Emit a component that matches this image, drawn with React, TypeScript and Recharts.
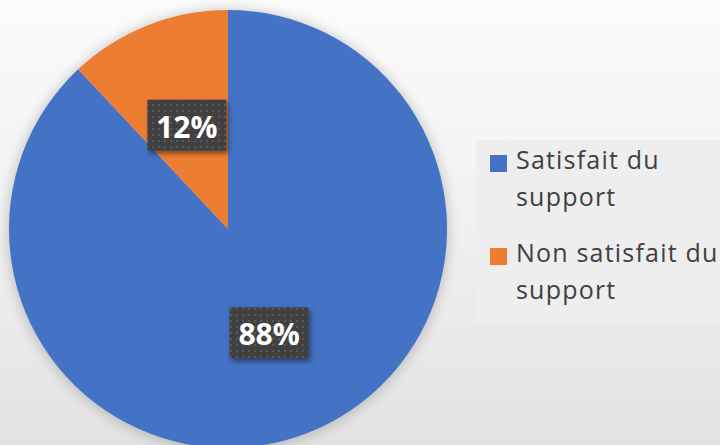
import { Cell, Legend, Pie, PieChart } from "recharts";

const categories = ["Satisfait du support", "Non satisfait du support"];
const shares = [88, 12];
const sliceColors = ["#4472C4", "#ED7D31"];

const data = categories.map((name, i) => ({ name, value: shares[i] }));

const RADIAN = Math.PI / 180;

function renderLabel(props: any) {
  const { cx, cy, midAngle, outerRadius, percent } = props;
  const r = outerRadius * 0.51;
  const x = cx + r * Math.cos(-midAngle * RADIAN);
  const y = cy + r * Math.sin(-midAngle * RADIAN);
  const w = 79;
  const h = 51;
  return (
    <g>
      <rect
        x={x - w / 2}
        y={y - h / 2}
        width={w}
        height={h}
        fill="url(#dotPattern)"
        filter="url(#boxShadow)"
      />
      <text
        x={x}
        y={y + 1}
        textAnchor="middle"
        dominantBaseline="central"
        fill="#ffffff"
        fontFamily="'Open Sans', sans-serif"
        fontWeight={700}
        fontSize={30}
      >
        {`${Math.round(percent * 100)}%`}
      </text>
    </g>
  );
}

function LegendContent() {
  return (
    <div
      style={{
        width: 244,
        height: 183,
        background: "#eeeeee",
        boxSizing: "border-box",
        padding: "10px 0 0 14px",
        fontFamily: "'Open Sans', sans-serif",
        fontSize: 25,
        letterSpacing: 1.2,
        lineHeight: "37px",
        color: "#404040",
      }}
    >
      {categories.map((c, i) => (
        <div key={c} style={{ display: "flex", alignItems: "flex-start", marginBottom: 28 }}>
          <span
            style={{
              display: "inline-block",
              width: 17,
              height: 17,
              background: sliceColors[i],
              marginTop: 5,
              marginRight: 9,
              flexShrink: 0,
            }}
          />
          <span style={{ width: 215, marginTop: -9 }}>{c}</span>
        </div>
      ))}
    </div>
  );
}

export default function App() {
  return (
    <div
      style={{
        position: "fixed",
        left: 0,
        top: 0,
        width: 720,
        height: 445,
        overflow: "hidden",
        background: "linear-gradient(180deg, #fbfbfb 0%, #f2f2f2 45%, #e2e2e2 100%)",
      }}
    >
      <svg width={720} height={445} style={{ position: "absolute", left: 0, top: 0 }}>
        <defs>
          <pattern id="dotPattern" width="6" height="6" patternUnits="userSpaceOnUse">
            <rect width="6" height="6" fill="#3f3f3f" />
            <rect x="2" y="2" width="2" height="2" fill="#585858" />
          </pattern>
          <filter id="boxShadow" x="-20%" y="-20%" width="150%" height="160%">
            <feDropShadow dx="2" dy="3" stdDeviation="2.5" floodColor="#000" floodOpacity="0.45" />
          </filter>
          <filter id="halo" x="-20%" y="-20%" width="140%" height="140%">
            <feGaussianBlur stdDeviation="6" />
          </filter>
        </defs>
        <circle cx={228} cy={230} r={221} fill="#000" opacity={0.18} filter="url(#halo)" />
      </svg>
      <div style={{ position: "absolute", left: 0, top: 0 }}>
        <PieChart width={720} height={445} margin={{ top: 0, right: 0, bottom: 0, left: 0 }}>
          <Pie
            data={data}
            dataKey="value"
            nameKey="name"
            cx={228}
            cy={229}
            outerRadius={219}
            startAngle={90}
            endAngle={-270}
            stroke="none"
            label={renderLabel}
            labelLine={false}
            isAnimationActive={false}
          >
            {data.map((d, i) => (
              <Cell key={d.name} fill={sliceColors[i]} />
            ))}
          </Pie>
          <Legend
            layout="vertical"
            content={() => <LegendContent />}
            wrapperStyle={{ position: "absolute", left: 476, top: 140, width: 244 }}
          />
        </PieChart>
      </div>
    </div>
  );
}
